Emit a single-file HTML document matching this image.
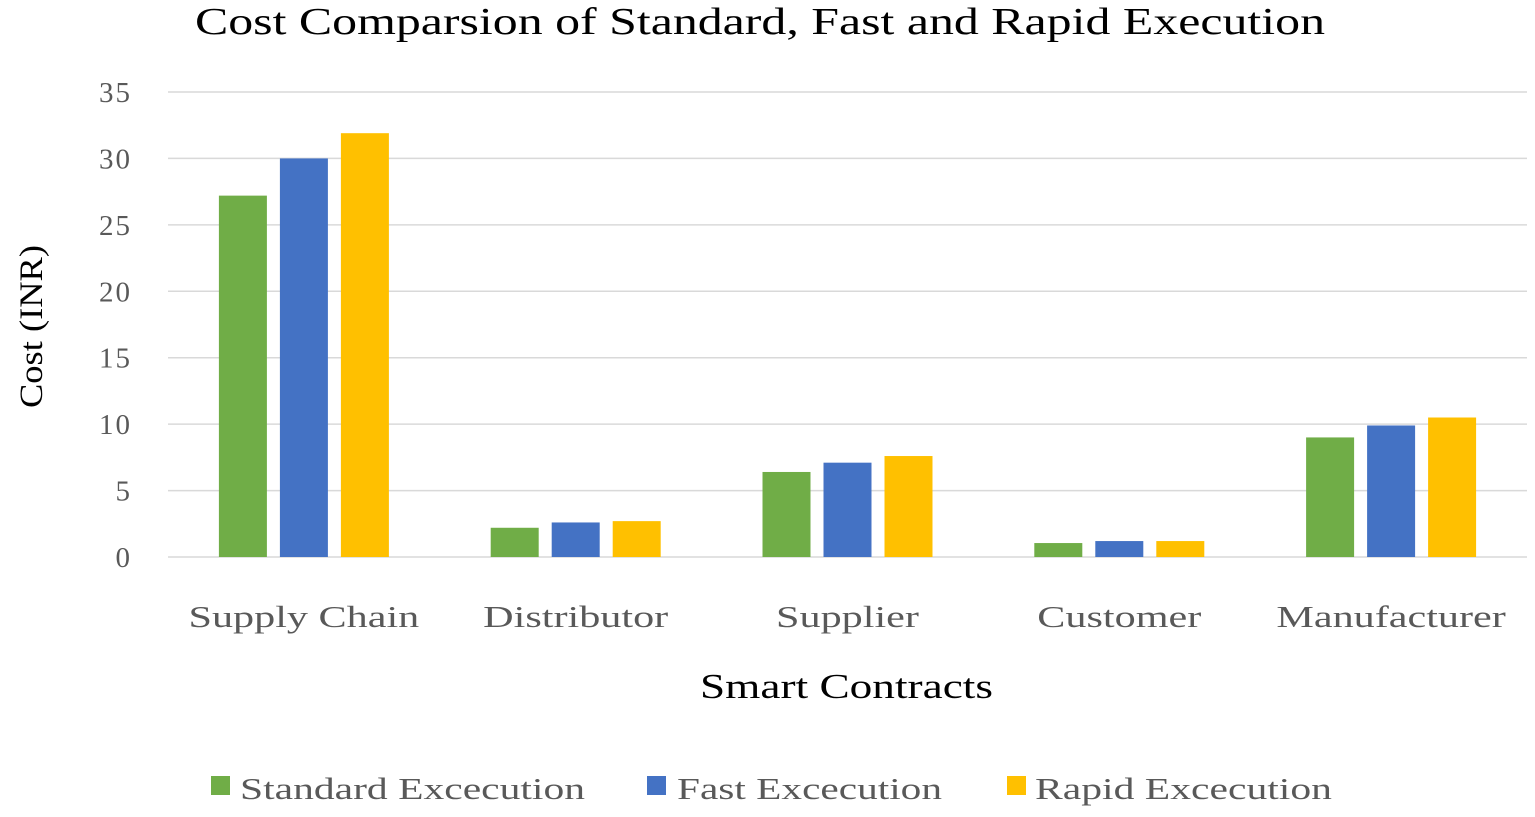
<!DOCTYPE html>
<html><head><meta charset="utf-8"><style>
body{margin:0;background:#fff;}
svg text{font-family:"Liberation Serif",serif;}
</style></head><body>
<svg id="chart" width="1535" height="812" xmlns="http://www.w3.org/2000/svg">
<text x="195" y="34" font-size="38" textLength="1130" lengthAdjust="spacingAndGlyphs" fill="#000">Cost Comparsion of Standard, Fast and Rapid Execution</text>
<g id="grid"></g><g id="bars"></g><g id="labels"></g>
<text transform="translate(42,408) rotate(-90)" font-size="33" textLength="163" lengthAdjust="spacingAndGlyphs" fill="#000">Cost (INR)</text>
<text x="700" y="698" font-size="35" textLength="293" lengthAdjust="spacingAndGlyphs" fill="#000">Smart Contracts</text>
<g>
<rect x="211" y="776" width="19" height="19" fill="#70ad47"/>
<text x="240" y="799" font-size="31" textLength="345" lengthAdjust="spacingAndGlyphs" fill="#595959">Standard Excecution</text>
<rect x="647" y="776" width="19" height="19" fill="#4472c4"/>
<text x="677" y="799" font-size="31" textLength="265" lengthAdjust="spacingAndGlyphs" fill="#595959">Fast Excecution</text>
<rect x="1007" y="776" width="19" height="19" fill="#ffc000"/>
<text x="1035" y="799" font-size="31" textLength="297" lengthAdjust="spacingAndGlyphs" fill="#595959">Rapid Excecution</text>
</g>
</svg>
<script>
const categories=["Supply Chain","Distributor","Supplier","Customer","Manufacturer"];
const standardValues=[27.2,2.2,6.4,1.05,9.0];
const fastValues=[30.0,2.6,7.1,1.2,9.9];
const rapidValues=[31.9,2.7,7.6,1.2,10.5];
const yTicks=[0,5,10,15,20,25,30,35];
const ns="http://www.w3.org/2000/svg";
const x0=168,x1=1527,yBase=557,yTop=92,yMax=35;
const y=v=>yBase-(v/yMax)*(yBase-yTop);
const cw=(x1-x0)/categories.length;
const cx=i=>x0+cw*(i+0.5);
const labelFactor=1.36;
function mk(tag,attrs,parent){const e=document.createElementNS(ns,tag);for(const k in attrs)e.setAttribute(k,attrs[k]);document.getElementById(parent).appendChild(e);return e;}
yTicks.forEach(t=>{
 const l=mk('line',{x1:x0,x2:x1,y1:y(t),y2:y(t),stroke:'#d9d9d9','stroke-width':1.5},'grid');
 
 
 const tx=mk('text',{x:132,y:y(t)+10,'font-size':29,'text-anchor':'end',fill:'#595959','letter-spacing':2},'labels');
 tx.textContent=t;
 
 
});
const series=[["standard",standardValues,"#70ad47"],["fast",fastValues,"#4472c4"],["rapid",rapidValues,"#ffc000"]];
const bw=48,step=61;
categories.forEach((c,i)=>{
 series.forEach(([n,vals,col],j)=>{
  const bx=cx(i)+(j-1)*step-bw/2;
  const r=mk('rect',{x:bx,y:y(vals[i]),width:bw,height:yBase-y(vals[i]),fill:col},'bars');
  
  
 });
 const t=mk('text',{x:cx(i),y:627,'font-size':31,'text-anchor':'middle',fill:'#595959'},'labels');
 t.textContent=c;
 
 
 const w=t.getComputedTextLength();
 t.setAttribute('textLength',w*labelFactor);
 t.setAttribute('lengthAdjust','spacingAndGlyphs');
});
</script>
</body></html>
